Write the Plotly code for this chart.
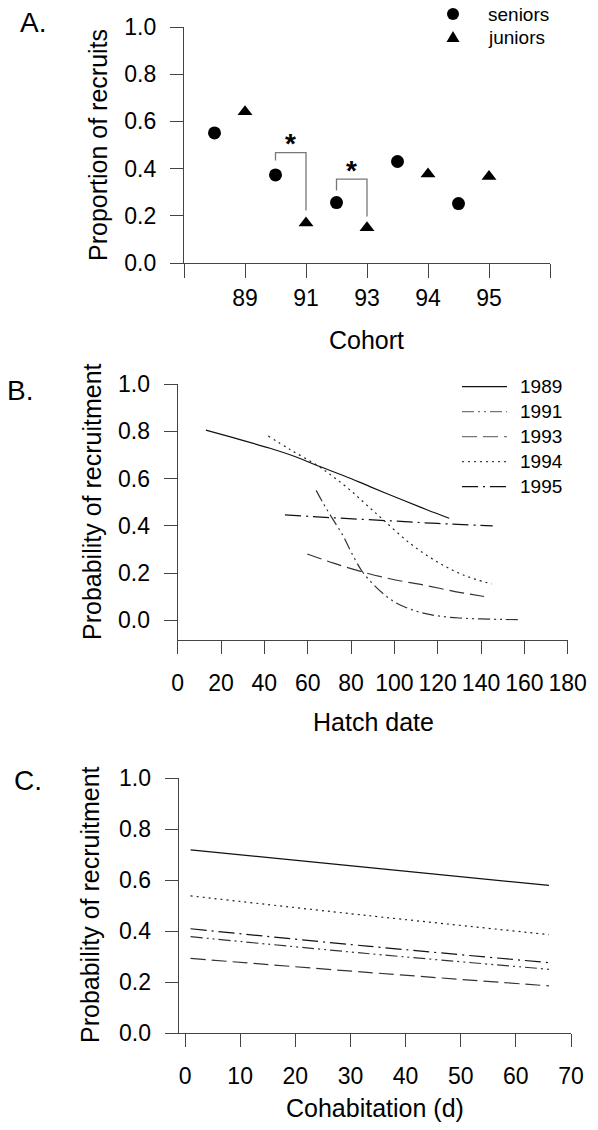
import numpy as np
import plotly.graph_objects as go

# Panel A: proportion of recruits by cohort
cohorts = ["89", "91", "93", "94", "95"]
seniors = [0.551, 0.373, 0.256, 0.430, 0.252]
juniors = [0.641, 0.169, 0.149, 0.377, 0.366]

# significance brackets (senior -> junior), y levels: start, top, end
sig_pairs = [1, 2]  # index of cohort (91, 93)
sig_start = [0.434, 0.307]
sig_top = [0.468, 0.355]
sig_end = [0.222, 0.197]

# Panel B: probability of recruitment vs hatch date
hatch_1989_x = [13, 26, 42.6, 55, 64.9, 77, 88.7, 104.1, 115, 125.3]
hatch_1989_y = [0.805, 0.772, 0.728, 0.690, 0.653, 0.611, 0.566, 0.508, 0.468, 0.432]
hatch_1991_x = [63.9, 67.5, 71.8, 76.2, 80, 85, 90, 95, 100, 106, 112, 120, 130, 140, 150, 158]
hatch_1991_y = [0.550, 0.490, 0.425, 0.360, 0.290, 0.209, 0.155, 0.112, 0.078, 0.052, 0.034, 0.019, 0.010, 0.006, 0.004, 0.003]
hatch_1993_x = [59.8, 72, 86.4, 100, 113.3, 128, 141.4]
hatch_1993_y = [0.281, 0.242, 0.202, 0.172, 0.150, 0.122, 0.101]
hatch_1994_x = [41.8, 52, 64.9, 72, 79.5, 87, 94.9, 107.2, 119.5, 131.8, 144.9]
hatch_1994_y = [0.780, 0.722, 0.653, 0.606, 0.552, 0.490, 0.425, 0.326, 0.249, 0.192, 0.154]
hatch_1995_x = [49.5, 72, 96.4, 120, 145.4]
hatch_1995_y = [0.446, 0.434, 0.422, 0.410, 0.400]

# Panel C: probability of recruitment vs cohabitation
cohab_x = [1, 33, 66]
cohab_1989 = [0.719, 0.651, 0.580]
cohab_1991 = [0.379, 0.313, 0.251]
cohab_1993 = [0.294, 0.239, 0.186]
cohab_1994 = [0.539, 0.462, 0.387]
cohab_1995 = [0.410, 0.342, 0.277]

years = ["1989", "1991", "1993", "1994", "1995"]
dashes = ["solid", "12px,4px,2px,4px,2px,4px", "15px,6px", "2px,4px", "16px,5px,2px,5px"]
line_cols = ["#111111", "#333333", "#333333", "#222222", "#111111"]
legend_cols = ["#111111", "#777777", "#777777", "#444444", "#111111"]

W, H = 598, 1130
FONT = "Liberation Sans, Arial, sans-serif"


def px_x(p):
    return p / W


def px_y(p):
    return 1 - p / H


def note(txt, x, y, size, **kw):
    fig.add_annotation(text=txt, x=px_x(x), y=px_y(y), xref="paper", yref="paper", showarrow=False,
                       xanchor=kw.pop("xanchor", "center"), yanchor="middle",
                       font=dict(size=size, family=FONT, color="black"), **kw)


fig = go.Figure()

# ---- Panel A
xpos = np.arange(1, len(cohorts) + 1)
fig.add_trace(go.Scatter(x=xpos - 0.5, y=seniors, mode="markers", name="seniors",
                         marker=dict(symbol="circle", size=13, color="black"),
                         xaxis="x", yaxis="y", cliponaxis=False))
fig.add_trace(go.Scatter(x=xpos, y=juniors, mode="markers", name="juniors",
                         marker=dict(symbol="triangle-up", size=13, color="black"),
                         xaxis="x", yaxis="y", cliponaxis=False))
for i, k in enumerate(sig_pairs):
    xs = [xpos[k] - 0.5, xpos[k] - 0.5, xpos[k], xpos[k]]
    ys = [sig_start[i], sig_top[i], sig_top[i], sig_end[i]]
    fig.add_trace(go.Scatter(x=xs, y=ys, mode="lines", line=dict(color="#777777", width=1.3),
                             xaxis="x", yaxis="y", hoverinfo="skip"))
    fig.add_annotation(x=xpos[k] - 0.25, y=sig_top[i], yshift=9, text="<b>*</b>", showarrow=False,
                       xref="x", yref="y", xanchor="center", yanchor="middle",
                       font=dict(size=28, color="black", family=FONT))

# ---- Panel B
hatch = [(hatch_1989_x, hatch_1989_y), (hatch_1991_x, hatch_1991_y), (hatch_1993_x, hatch_1993_y),
         (hatch_1994_x, hatch_1994_y), (hatch_1995_x, hatch_1995_y)]
for yr, (hx, hy), d, c in zip(years, hatch, dashes, line_cols):
    fig.add_trace(go.Scatter(x=hx, y=hy, mode="lines", name=yr, line=dict(color=c, width=1.2, dash=d),
                             line_shape="spline", xaxis="x2", yaxis="y2"))

# ---- Panel C
for yr, cy, d, c in zip(years, [cohab_1989, cohab_1991, cohab_1993, cohab_1994, cohab_1995], dashes, line_cols):
    fig.add_trace(go.Scatter(x=cohab_x, y=cy, mode="lines", name=yr, line=dict(color=c, width=1.2, dash=d),
                             line_shape="spline", xaxis="x3", yaxis="y3"))

axis_common = dict(showline=True, linecolor="#444444", linewidth=1.3, ticks="outside", ticklen=13,
                   tickcolor="#444444", tickwidth=1.3, showgrid=False, zeroline=False, automargin=False,
                   tickfont=dict(family=FONT, size=23, color="black"))

fig.update_layout(
    width=W, height=H, margin=dict(l=0, r=0, t=0, b=0, autoexpand=False),
    paper_bgcolor="white", plot_bgcolor="white", showlegend=False,
    font=dict(family=FONT, color="black"),
    xaxis=dict(axis_common, domain=[px_x(184), px_x(550)], range=[0, 6],
               tickvals=list(range(0, 7)), ticktext=[""] + cohorts + [""], ticklen=14,
               anchor="y", ticklabelstandoff=0),
    yaxis=dict(axis_common, domain=[px_y(263), px_y(27)], range=[0, 1], dtick=0.2, tickformat=".1f",
               anchor="x", ticklabelstandoff=9),
    xaxis2=dict(axis_common, domain=[px_x(177.7), px_x(567.7)], range=[0, 180], dtick=20,
                anchor="y2", ticklabelstandoff=9),
    yaxis2=dict(axis_common, domain=[px_y(640), px_y(384)], range=[-0.083, 1.0], tickvals=[0, 0.2, 0.4, 0.6, 0.8, 1.0],
                tickformat=".1f", anchor="x2", ticklabelstandoff=9),
    xaxis3=dict(axis_common, domain=[px_x(178.8), px_x(571)], range=[-1.13, 70], dtick=10,
                anchor="y3", ticklabelstandoff=9),
    yaxis3=dict(axis_common, domain=[px_y(1033.3), px_y(778.3)], range=[0, 1], dtick=0.2, tickformat=".1f",
                anchor="x3", ticklabelstandoff=9),
)

# legend for panel A (markers)
fig.add_shape(type="circle", xref="paper", yref="paper", x0=px_x(447), x1=px_x(459), y0=px_y(20), y1=px_y(8),
              fillcolor="black", line=dict(width=0))
fig.add_shape(type="path", xref="paper", yref="paper",
              path=f"M {px_x(446.5)},{px_y(42)} L {px_x(459.5)},{px_y(42)} L {px_x(453)},{px_y(31)} Z",
              fillcolor="black", line=dict(width=0))
for txt, y in [("seniors", 14), ("juniors", 37)]:
    note(txt, 486, y, 19, xanchor="left")

# legend for panel B (line styles)
for i, (yr, d, c) in enumerate(zip(years, dashes, legend_cols)):
    ly = 386.7 + 25 * i
    fig.add_shape(type="line", xref="paper", yref="paper", x0=px_x(462), x1=px_x(507), y0=px_y(ly), y1=px_y(ly),
                  line=dict(color=c, width=1.3, dash=d))
    note(yr, 518, ly, 19, xanchor="left")

# panel letters and axis titles
for txt, x, y in [("A.", 33, 23), ("B.", 20, 390), ("C.", 28, 780)]:
    note(txt, x, y, 28)
for txt, x, y in [("Proportion of recruits", 98, 145), ("Probability of recruitment", 92, 502),
                  ("Probability of recruitment", 90, 905)]:
    note(txt, x, y, 25, textangle=-90)
for txt, x, y in [("Cohort", 366, 340), ("Hatch date", 373, 722), ("Cohabitation (d)", 375, 1108)]:
    note(txt, x, y, 25)

# drop the default 8px page margin so the figure fills the window exactly
fig.write_html("out.html", config={"displayModeBar": False},
               post_script="document.body.style.margin='0px';")
